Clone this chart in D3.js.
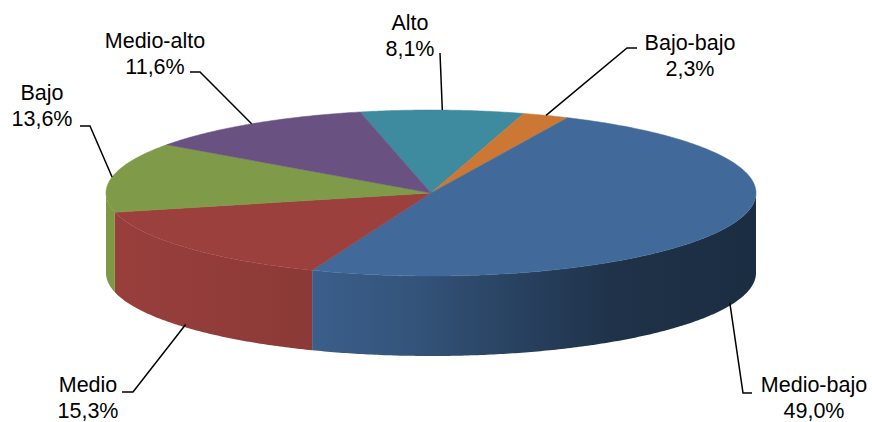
<!DOCTYPE html>
<html>
<head>
<meta charset="utf-8">
<script src="https://cdnjs.cloudflare.com/ajax/libs/d3/7.8.5/d3.min.js"></script>
<style>
	body {margin: 0; background: #fff;}
	svg text {font-family: "Liberation Sans", Arial, sans-serif; font-size: 21.5px; fill: #000;}
</style>
</head>
<body>
<svg id="chart" width="872" height="422"></svg>
<script>
var categories = ['Alto', 'Bajo-bajo', 'Medio-bajo', 'Medio', 'Bajo', 'Medio-alto'];
var values = [8.1, 2.3, 49.0, 15.3, 13.6, 11.6];
var valueLabels = ['8,1%', '2,3%', '49,0%', '15,3%', '13,6%', '11,6%'];
var colors = ['#3e8a9f', '#cc7834', '#416a9b', '#9b403d', '#7f9a48', '#695282'];

// where each label sits: centre x / first baseline, leader end point and elbow x
var labelPos = [
	{x: 410, y: 30, ex: 440, ey: 53, bx: 440},
	{x: 690, y: 50, ex: 637, ey: 48, bx: 627},
	{x: 814, y: 392, ex: 752, ey: 393, bx: 743},
	{x: 88, y: 392, ex: 122, ey: 392, bx: 133},
	{x: 42, y: 100, ex: 80, ey: 126, bx: 90},
	{x: 155, y: 48, ex: 190, ey: 72, bx: 200}
];

function pie3d() {
	var	svg = d3.select('#chart'),
		cx = 431, cy = 193,
		rx = 325, ry = 83,
		depth = 80,
		startDeg = -12.6,
		defs = svg.append('defs'),
		data = categories.map(function (c, i) { return {name: c, value: values[i], label: valueLabels[i], color: colors[i], pos: labelPos[i]}; }),
		arcs;

	arcs = d3.pie()
		.sort(null)
		.value(function (d) { return d.value; })
		.startAngle(startDeg * Math.PI / 180)
		.endAngle(startDeg * Math.PI / 180 + 2 * Math.PI)(data);

	function px(a) { return cx + rx * Math.sin(a); }
	function py(a, down) { return cy - ry * Math.cos(a) + (down || 0); }

	function rimPoints(a0, a1, down) {
		var n = Math.max(2, Math.ceil((a1 - a0) / 0.01)),
			pts = [];
		for (var k = 0; k <= n; k++) {
			var a = a0 + (a1 - a0) * k / n;
			pts.push([px(a), py(a, down)]);
		}
		return pts;
	}

	var line = d3.line();

	//side shading: lit on the left, dark on the right
	var shadeX = [0, 0.31, 0.48, 0.62, 0.78, 1],
		shadeK = [0.99, 0.9, 0.78, 0.63, 0.47, 0.42];

	arcs.forEach(function (d, i) {
		var g = defs.append('linearGradient')
			.attr('id', 'side' + i)
			.attr('gradientUnits', 'userSpaceOnUse')
			.attr('x1', cx - rx).attr('x2', cx + rx)
			.attr('y1', 0).attr('y2', 0);
		shadeX.forEach(function (o, j) {
			var c = d3.rgb(d.data.color);
			g.append('stop')
				.attr('offset', o)
				.attr('stop-color', d3.rgb(c.r * shadeK[j], c.g * shadeK[j], c.b * shadeK[j]).formatHex());
		});
	});

	// front sides, only the part between 90 and 270 deg shows
	svg.append('g').selectAll('path')
		.data(arcs.filter(function (d) { return d.endAngle > Math.PI / 2 && d.startAngle < 3 * Math.PI / 2; }))
		.join('path')
		.attr('fill', function (d) { return 'url(#side' + d.index + ')'; })
		.attr('d', function (d) {
			var s0 = Math.max(d.startAngle, Math.PI / 2),
				s1 = Math.min(d.endAngle, 3 * Math.PI / 2),
				pts = rimPoints(s0, s1, 0).concat(rimPoints(s0, s1, depth).reverse());
			return line(pts) + 'Z';
		});

	// top faces
	svg.append('g').selectAll('path')
		.data(arcs)
		.join('path')
		.attr('fill', function (d) { return d.data.color; })
		.attr('stroke', function (d) { return d.data.color; })
		.attr('stroke-width', 0.5)
		.attr('d', function (d) {
			return line([[cx, cy]].concat(rimPoints(d.startAngle, d.endAngle, 0))) + 'Z';
		});

	// leader lines, anchored at the mid angle of each slice
	svg.append('g').selectAll('path')
		.data(arcs)
		.join('path')
		.attr('fill', 'none')
		.attr('stroke', '#000')
		.attr('stroke-width', 1.5)
		.attr('d', function (d) {
			var a = (d.startAngle + d.endAngle) / 2,
				front = Math.cos(a) < -0.2,
				p = d.data.pos,
				anchor = [px(a), py(a, front ? depth - 3 : 0)];
			return line([anchor, [p.bx, p.ey], [p.ex, p.ey]]);
		});

	var labels = svg.append('g').selectAll('text')
		.data(arcs)
		.join('text')
		.attr('text-anchor', 'middle');

	labels.append('tspan')
		.attr('x', function (d) { return d.data.pos.x; })
		.attr('y', function (d) { return d.data.pos.y; })
		.text(function (d) { return d.data.name; });

	labels.append('tspan')
		.attr('x', function (d) { return d.data.pos.x; })
		.attr('y', function (d) { return d.data.pos.y + 26; })
		.text(function (d) { return d.data.label; });
}

pie3d();
</script>
</body>
</html>
